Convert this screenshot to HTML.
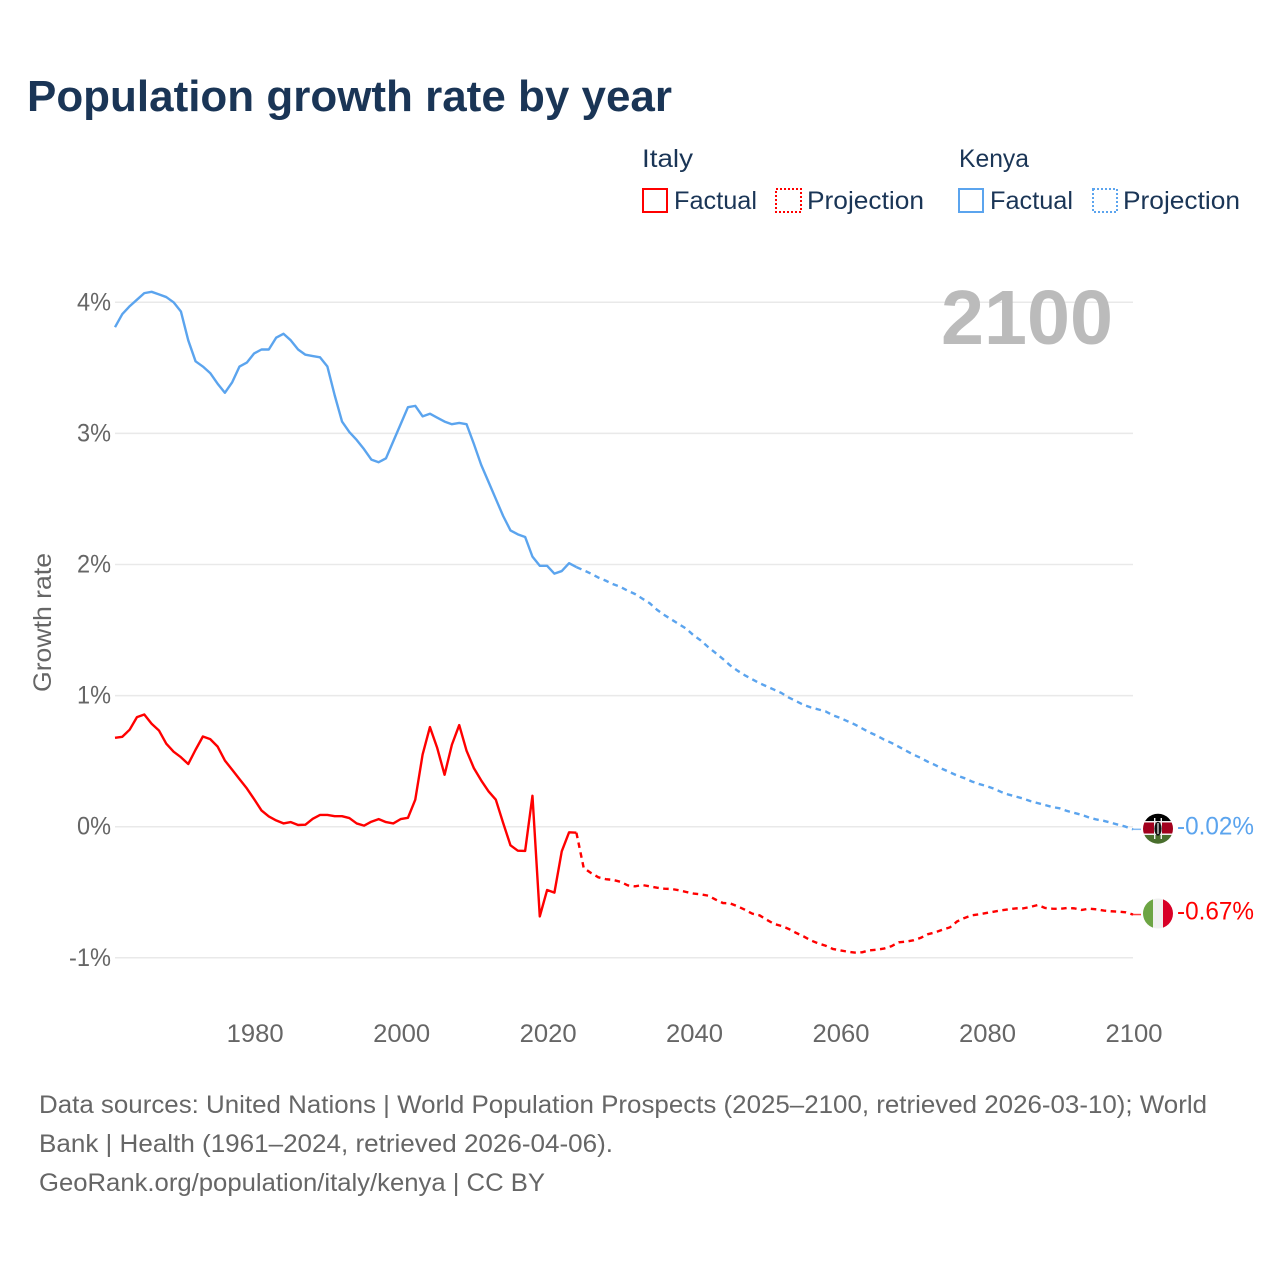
<!DOCTYPE html>
<html lang="en">
<head>
<meta charset="utf-8">
<title>Population growth rate by year</title>
<style>
  html, body { margin: 0; padding: 0; background: #fff; }
  body { width: 1280px; height: 1280px; overflow: hidden; }
  svg { display: block; font-family: "Liberation Sans", sans-serif; }
</style>
</head>
<body>
<svg id="chart" width="1280" height="1280" viewBox="0 0 1280 1280" xmlns="http://www.w3.org/2000/svg">
  <rect x="0" y="0" width="1280" height="1280" fill="#fff"/>
  <text x="27" y="111" font-size="44" font-weight="700" fill="#1a3556" textLength="645" lengthAdjust="spacingAndGlyphs">Population growth rate by year</text>

  <g font-size="25" fill="#1a3556">
    <text x="642" y="167" textLength="51" lengthAdjust="spacingAndGlyphs">Italy</text>
    <text x="959" y="167" textLength="70" lengthAdjust="spacingAndGlyphs">Kenya</text>
    <rect x="643" y="189" width="24" height="23" fill="none" stroke="#ff0000" stroke-width="2"/>
    <text x="674" y="209" textLength="83" lengthAdjust="spacingAndGlyphs">Factual</text>
    <rect x="776" y="189" width="25" height="23" fill="none" stroke="#ff0000" stroke-width="2" stroke-dasharray="2 2"/>
    <text x="807" y="209" textLength="117" lengthAdjust="spacingAndGlyphs">Projection</text>
    <rect x="959" y="189" width="24" height="23" fill="none" stroke="#5ba4ee" stroke-width="2"/>
    <text x="990" y="209" textLength="83" lengthAdjust="spacingAndGlyphs">Factual</text>
    <rect x="1093" y="189" width="24" height="23" fill="none" stroke="#5ba4ee" stroke-width="2" stroke-dasharray="2 2"/>
    <text x="1123" y="209" textLength="117" lengthAdjust="spacingAndGlyphs">Projection</text>
  </g>

  <text transform="translate(51 622.5) rotate(-90)" text-anchor="middle" font-size="25" fill="#666" textLength="139" lengthAdjust="spacingAndGlyphs">Growth rate</text>

  <g id="grid"></g>
  <g id="yticks"></g>
  <g id="xticks"></g>

  <text x="1113" y="344" text-anchor="end" font-size="77" font-weight="700" fill="#bbbbbb" textLength="172" lengthAdjust="spacingAndGlyphs">2100</text>

  <g id="series"></g>

  <defs>
    <clipPath id="flag-clip-kenya"><circle cx="1158" cy="828.7" r="15"/></clipPath>
    <clipPath id="flag-clip-italy"><circle cx="1158" cy="913.5" r="15"/></clipPath>
  </defs>
  <g clip-path="url(#flag-clip-kenya)">
    <rect x="1143" y="813" width="30" height="8" fill="#000"/>
    <rect x="1143" y="821" width="30" height="1.5" fill="#f0f0f0"/>
    <rect x="1143" y="822.5" width="30" height="11" fill="#a2001d"/>
    <rect x="1143" y="833.5" width="30" height="1.5" fill="#f0f0f0"/>
    <rect x="1143" y="835" width="30" height="9" fill="#496e2d"/>
    <rect x="1154" y="818" width="1.4" height="21" fill="#f0f0f0"/>
    <rect x="1160.6" y="818" width="1.4" height="21" fill="#f0f0f0"/>
    <ellipse cx="1158" cy="828.7" rx="3.6" ry="7" fill="#111"/>
    <rect x="1157.4" y="823" width="1.2" height="11" fill="#f0f0f0"/>
  </g>
  <g clip-path="url(#flag-clip-italy)">
    <rect x="1143" y="898" width="10" height="31" fill="#6da544"/>
    <rect x="1153" y="898" width="10" height="31" fill="#f0f0f0"/>
    <rect x="1163" y="898" width="10" height="31" fill="#d80027"/>
  </g>

  <g id="end-labels"></g>

  <g font-size="25" fill="#666">
    <text x="39" y="1113" textLength="1168" lengthAdjust="spacingAndGlyphs">Data sources: United Nations | World Population Prospects (2025–2100, retrieved 2026-03-10); World</text>
    <text x="39" y="1152" textLength="574" lengthAdjust="spacingAndGlyphs">Bank | Health (1961–2024, retrieved 2026-04-06).</text>
    <text x="39" y="1191" textLength="506" lengthAdjust="spacingAndGlyphs">GeoRank.org/population/italy/kenya | CC BY</text>
  </g>
</svg>

<script>
const factualStartYear = 1961;
const projectionStartYear = 2024;
const xTickYears = [1980, 2000, 2020, 2040, 2060, 2080, 2100];
const yTickValues = [4, 3, 2, 1, 0, -1];
const yTickLabels = ['4%', '3%', '2%', '1%', '0%', '-1%'];

const kenyaFactual = [
  3.81,3.91,3.97,4.02,4.07,4.08,4.06,4.04,4.00,3.93,
  3.71,3.55,3.51,3.46,3.38,3.31,3.39,3.51,3.54,3.61,
  3.64,3.64,3.73,3.76,3.71,3.64,3.60,3.59,3.58,3.51,
  3.29,3.09,3.01,2.95,2.88,2.80,2.78,2.81,2.94,3.07,
  3.20,3.21,3.13,3.15,3.12,3.09,3.07,3.08,3.07,2.92,
  2.76,2.63,2.50,2.37,2.26,2.23,2.21,2.06,1.99,1.99,
  1.93,1.95,2.01,1.98
];
const kenyaProjection = [
  1.98,1.956,1.93,1.90,1.877,1.85,1.83,1.80,1.775,1.74,
  1.705,1.655,1.615,1.58,1.545,1.51,1.46,1.42,1.37,1.325,
  1.28,1.23,1.19,1.155,1.125,1.095,1.07,1.045,1.02,0.985,
  0.958,0.93,0.91,0.895,0.88,0.85,0.83,0.805,0.78,0.75,
  0.72,0.695,0.665,0.64,0.61,0.58,0.55,0.525,0.495,0.47,
  0.44,0.415,0.39,0.37,0.345,0.325,0.31,0.29,0.265,0.245,
  0.23,0.215,0.195,0.18,0.165,0.15,0.14,0.12,0.105,0.09,
  0.07,0.055,0.045,0.03,0.015,0.0,-0.02
];
const italyFactual = [
  0.678,0.686,0.74,0.836,0.856,0.785,0.734,0.633,0.572,0.53,
  0.478,0.587,0.688,0.668,0.612,0.505,0.434,0.363,0.292,0.21,
  0.124,0.078,0.048,0.025,0.035,0.013,0.015,0.06,0.09,0.09,
  0.08,0.08,0.066,0.025,0.008,0.038,0.058,0.035,0.025,0.058,
  0.068,0.206,0.55,0.76,0.60,0.396,0.625,0.775,0.58,0.447,
  0.353,0.27,0.206,0.028,-0.142,-0.183,-0.185,0.236,-0.684,-0.483,
  -0.503,-0.188,-0.043,-0.046
];
const italyProjection = [
  -0.046,-0.315,-0.353,-0.386,-0.40,-0.406,-0.42,-0.447,-0.455,-0.445,
  -0.455,-0.465,-0.473,-0.475,-0.485,-0.498,-0.51,-0.516,-0.526,-0.556,
  -0.582,-0.585,-0.607,-0.633,-0.663,-0.676,-0.71,-0.742,-0.757,-0.78,
  -0.81,-0.836,-0.867,-0.89,-0.907,-0.932,-0.943,-0.953,-0.96,-0.958,
  -0.943,-0.938,-0.93,-0.912,-0.882,-0.877,-0.867,-0.848,-0.82,-0.806,
  -0.785,-0.768,-0.722,-0.696,-0.676,-0.668,-0.658,-0.648,-0.638,-0.63,
  -0.623,-0.623,-0.612,-0.597,-0.62,-0.625,-0.627,-0.62,-0.623,-0.635,
  -0.625,-0.63,-0.64,-0.645,-0.648,-0.653,-0.67
];
const endLabels = ['-0.02%', '-0.67%'];

const NS = 'http://www.w3.org/2000/svg';
const plotLeft = 115;
const plotRight = 1133;
const KENYA_COLOR = '#5ba4ee';
const ITALY_COLOR = '#ff0000';

function xScale(year) {
  return plotLeft + (year - 1961) * (plotRight - plotLeft) / (2100 - 1961);
}
function yScale(v) {
  return 826.7 - v * 131.1;
}
function makeText(parent, str, x, y, size, fill, anchor, length) {
  const t = document.createElementNS(NS, 'text');
  t.setAttribute('x', x);
  t.setAttribute('y', y);
  t.setAttribute('font-size', size);
  t.setAttribute('fill', fill);
  t.setAttribute('text-anchor', anchor);
  t.setAttribute('textLength', length);
  t.setAttribute('lengthAdjust', 'spacingAndGlyphs');
  t.textContent = str;
  parent.appendChild(t);
  return t;
}
function makeLine(parent, startYear, values, color, dash) {
  const p = document.createElementNS(NS, 'path');
  const d = values.map((v, i) => (i ? 'L' : 'M') + xScale(startYear + i).toFixed(2) + ' ' + yScale(v).toFixed(2)).join(' ');
  p.setAttribute('d', d);
  p.setAttribute('fill', 'none');
  p.setAttribute('stroke', color);
  p.setAttribute('stroke-width', '2.4');
  p.setAttribute('stroke-linejoin', 'round');
  if (dash) p.setAttribute('stroke-dasharray', dash);
  parent.appendChild(p);
  return p;
}
function makeLeader(parent, value, color) {
  const l = document.createElementNS(NS, 'line');
  l.setAttribute('x1', plotRight);
  l.setAttribute('x2', plotRight + 8);
  l.setAttribute('y1', yScale(value));
  l.setAttribute('y2', yScale(value));
  l.setAttribute('stroke', color);
  l.setAttribute('stroke-width', '1.5');
  l.setAttribute('opacity', '0.75');
  parent.appendChild(l);
  return l;
}

const grid = document.getElementById('grid');
const yticks = document.getElementById('yticks');
const xticks = document.getElementById('xticks');
const series = document.getElementById('series');
const labels = document.getElementById('end-labels');

yTickValues.forEach((v, i) => {
  const g = document.createElementNS(NS, 'line');
  g.setAttribute('x1', plotLeft);
  g.setAttribute('x2', plotRight);
  g.setAttribute('y1', yScale(v));
  g.setAttribute('y2', yScale(v));
  g.setAttribute('stroke', '#e9e9e9');
  g.setAttribute('stroke-width', '1.5');
  
  
  grid.appendChild(g);

  const t = makeText(yticks, yTickLabels[i], 111, yScale(v) + 8, 25, '#666', 'end', yTickLabels[i].length * 14 + (v < 0 ? 0 : 6));
  
  
});

xTickYears.forEach((yr) => {
  const t = makeText(xticks, String(yr), xScale(yr) + 1, 1042, 25, '#666', 'middle', 57);
  
  
});

const kenyaFactualLine = makeLine(series, factualStartYear, kenyaFactual, KENYA_COLOR, null);



const kenyaProjectionLine = makeLine(series, projectionStartYear, kenyaProjection, KENYA_COLOR, '5.5 4.5');



const italyFactualLine = makeLine(series, factualStartYear, italyFactual, ITALY_COLOR, null);



const italyProjectionLine = makeLine(series, projectionStartYear, italyProjection, ITALY_COLOR, '5.5 4.5');



const kenyaLast = kenyaProjection[kenyaProjection.length - 1];
const italyLast = italyProjection[italyProjection.length - 1];

const kenyaLeader = makeLeader(series, kenyaLast, KENYA_COLOR);



const italyLeader = makeLeader(series, italyLast, ITALY_COLOR);



const kenyaEnd = makeText(labels, endLabels[0], 1177, yScale(kenyaLast) + 5, 25, KENYA_COLOR, 'start', 77);



const italyEnd = makeText(labels, endLabels[1], 1177, yScale(italyLast) + 5, 25, ITALY_COLOR, 'start', 77);


</script>
</body>
</html>
